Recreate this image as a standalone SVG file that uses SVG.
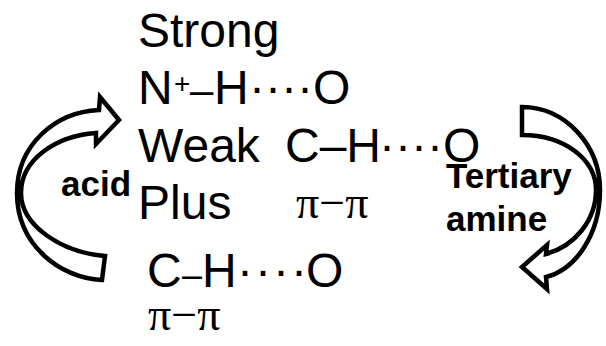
<svg xmlns="http://www.w3.org/2000/svg" width="606" height="346" viewBox="0 0 606 346">
<style>
.t{font-family:"Liberation Sans",Arial,sans-serif;font-size:48px;fill:#000}
.p{font-family:"Liberation Serif","Times New Roman",serif;font-size:46px;fill:#000}
.b{font-family:"Liberation Sans",Arial,sans-serif;font-size:35px;font-weight:bold;fill:#000}
.arr{fill:#fff;stroke:#000;stroke-width:4.5;stroke-linejoin:miter}
</style>
<g id="connectors">
<path class="arr" d="M102,280 C60,278 17,245 17,193 C17,145 55,112 99,110 L100,97 L119,120 L96,144 L96,133 C55,136 21,160 21,193 C21,225 60,252 105,256 Z"/>
<path class="arr" d="M522,107 C565,107 600,145 600,190 C600,235 575,270 546,277 L547,289 L522,267 L547,245 L546,254 C575,246 596,220 596,190 C596,160 565,135 522,135 Z"/>
</g>
<g id="strong">
<text class="t" x="138" y="47">Strong</text>
<text class="t" x="138" y="104">N<tspan x="174" y="93" style="font-size:28px">+</tspan><tspan x="190" y="104" style="font-size:42px">–</tspan><tspan x="214">H</tspan><tspan x="249">····</tspan><tspan x="313">O</tspan></text>
</g>
<g id="weak">
<text class="t" x="138" y="162">Weak<tspan x="285">C–H</tspan><tspan x="379">····</tspan><tspan x="443">O</tspan></text>
</g>
<g id="plus">
<text class="t" x="138" y="219">Plus</text>
<text class="p" x="296" y="218">π−π</text>
<text class="t" x="147" y="287">C<tspan x="182" style="font-size:36px">–</tspan><tspan x="202">H</tspan><tspan x="237" letter-spacing="2">····</tspan><tspan x="306" letter-spacing="0">O</tspan></text>
<text class="p" x="148" y="330">π−π</text>
</g>
<g id="acid">
<text class="b" x="61" y="196">acid</text>
</g>
<g id="tertiary-amine">
<text class="b" x="446" y="188">Tertiary</text>
<text class="b" x="446" y="231">amine</text>
</g>
</svg>
